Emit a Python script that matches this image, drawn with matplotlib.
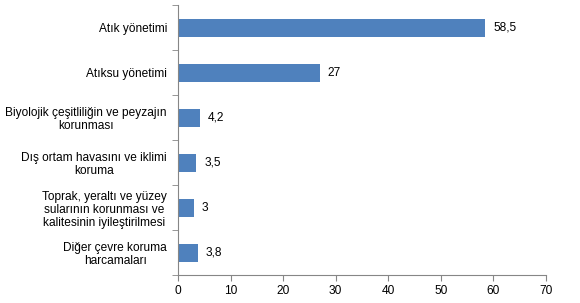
import numpy as np
import matplotlib.pyplot as plt
from matplotlib.ticker import FixedLocator

plt.rcParams['font.family'] = ['Liberation Sans', 'DejaVu Sans']

categories = [
    "Atık yönetimi",
    "Atıksu yönetimi",
    "Biyolojik çeşitliliğin ve peyzajın\nkorunması",
    "Dış ortam havasını ve iklimi\nkoruma",
    "Toprak, yeraltı ve yüzey\nsularının korunması ve\nkalitesinin iyileştirilmesi",
    "Diğer çevre koruma\nharcamaları",
]
values = [58.5, 27, 4.2, 3.5, 3, 3.8]
value_labels = ["58,5", "27", "4,2", "3,5", "3", "3,8"]
x_ticks = [0, 10, 20, 30, 40, 50, 60, 70]

BAR_COLOR = "#4F81BD"
AXIS_COLOR = "#868686"
FS = 8.6

fig = plt.figure(figsize=(5.8, 3.03), dpi=100)
ax = fig.add_axes([0.307, 0.092, 0.634, 0.891])

y = np.arange(len(categories))
ax.barh(y, values, height=0.4, color=BAR_COLOR)

# Value labels just right of bar end
for yi, v, lab in zip(y, values, value_labels):
    ax.annotate(lab, (v, yi), xytext=(8, 0), textcoords="offset pixels",
                va="center", ha="left", fontsize=FS)

ax.set_ylim(len(categories) - 0.5, -0.5)
ax.set_xlim(0, 70)
ax.set_xticks(x_ticks)
ax.set_yticks(y)
ax.set_yticklabels(categories, ha="right", multialignment="center",
                   fontsize=FS, linespacing=1.12)
ax.tick_params(axis="y", which="major", length=0, pad=8)
ax.yaxis.set_minor_locator(FixedLocator(np.arange(-0.5, len(categories), 1)))
ax.tick_params(axis="y", which="minor", length=4, color=AXIS_COLOR, direction="out")
ax.tick_params(axis="x", length=4, color=AXIS_COLOR, labelsize=FS, pad=3)

for side in ["top", "right"]:
    ax.spines[side].set_visible(False)
for side in ["left", "bottom"]:
    ax.spines[side].set_color(AXIS_COLOR)

plt.savefig("out.png", dpi=100)
